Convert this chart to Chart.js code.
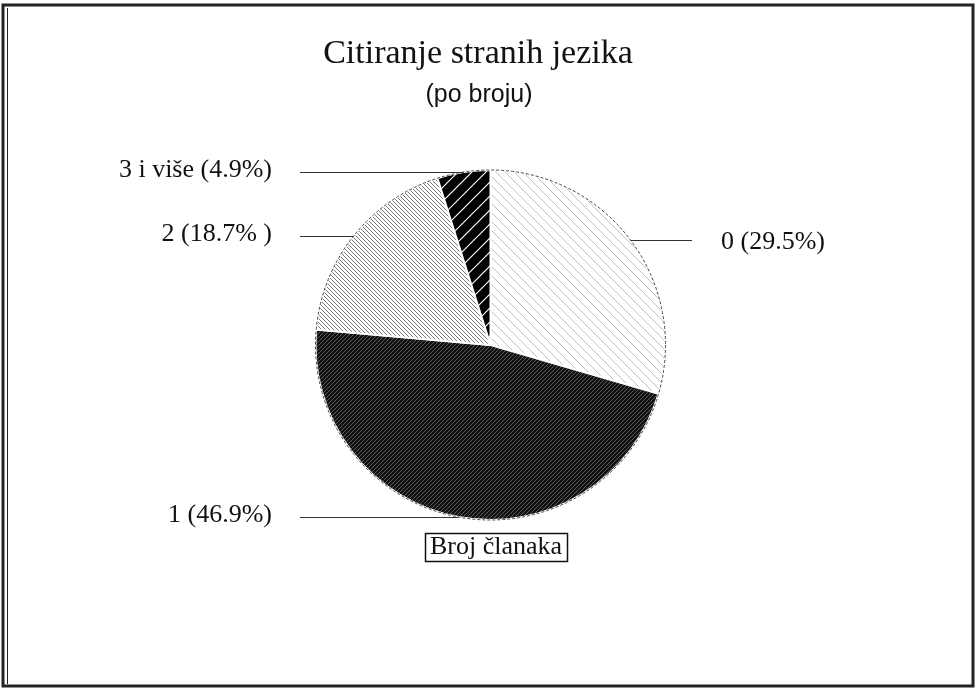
<!DOCTYPE html>
<html lang="hr">
<head>
<meta charset="UTF-8">
<title>Citiranje stranih jezika</title>
<script src="https://cdn.jsdelivr.net/npm/chart.js"></script>
<style>
  html, body { margin: 0; padding: 0; background: #fff; }
  #wrap { width: 977px; height: 690px; }
</style>
</head>
<body>
<div id="wrap"><canvas id="pie" width="977" height="690"></canvas></div>
<script>
// podaci sa slike
const categories = ['0', '1', '2', '3 i više'];
const shares = [29.5, 46.9, 18.7, 4.9];
const sliceLabels = ['0 (29.5%)', '1 (46.9%)', '2 (18.7% )', '3 i više (4.9%)'];
const chartTitle = 'Citiranje stranih jezika';
const chartSubtitle = '(po broju)';
const legendTitle = 'Broj članaka';

// srafure kao u originalu
function hatch(bg, fg, size, lw, forward) {
    const c = document.createElement('canvas');
    c.width = c.height = size;
    const x = c.getContext('2d');
    x.fillStyle = bg;
    x.fillRect(0, 0, size, size);
    x.strokeStyle = fg;
    x.lineWidth = lw;
    x.beginPath();
    if (forward) {
        x.moveTo(0, size); x.lineTo(size, 0);
        x.moveTo(-size / 2, size / 2); x.lineTo(size / 2, -size / 2);
        x.moveTo(size / 2, size * 1.5); x.lineTo(size * 1.5, size / 2);
    } else {
        x.moveTo(0, 0); x.lineTo(size, size);
        x.moveTo(-size / 2, size / 2); x.lineTo(size / 2, size * 1.5);
        x.moveTo(size / 2, -size / 2); x.lineTo(size * 1.5, size / 2);
    }
    x.stroke();
    return x.createPattern(c, 'repeat');
}

const fills = [
    hatch('#ffffff', '#b0b0b0', 9, 0.8, false),
    hatch('#111111', '#6e6e6e', 4, 0.8, true),
    hatch('#ffffff', '#6a6a6a', 4, 0.9, false),
    hatch('#000000', '#ffffff', 14, 1.2, true)
];

const serif = '"Liberation Serif", "Times New Roman", serif';
const sans = '"Liberation Sans", Arial, sans-serif';

// okvir, naslovi, linije do oznaka
const decor = {
    id: 'decor',
    beforeDraw(chart) {
        const ctx = chart.ctx;
        ctx.save();
        ctx.fillStyle = '#fff';
        ctx.fillRect(0, 0, chart.width, chart.height);
        ctx.strokeStyle = '#222';
        ctx.lineWidth = 3;
        ctx.strokeRect(3, 5, 970, 681);
        ctx.lineWidth = 1;
        ctx.beginPath();
        ctx.moveTo(7.5, 8); ctx.lineTo(7.5, 684);
        ctx.stroke();
        ctx.restore();
    },
    afterDatasetsDraw(chart) {
        const ctx = chart.ctx;
        const arcs = chart.getDatasetMeta(0).data;
        ctx.save();

        // obris kruga
        const a0 = arcs[0];
        ctx.strokeStyle = '#444';
        ctx.lineWidth = 1;
        ctx.setLineDash([3, 2]);
        ctx.beginPath();
        ctx.arc(a0.x, a0.y, a0.outerRadius, 0, Math.PI * 2);
        ctx.stroke();
        ctx.setLineDash([]);

        // naslov
        ctx.fillStyle = '#111';
        ctx.textAlign = 'center';
        ctx.textBaseline = 'alphabetic';
        ctx.font = '34px ' + serif;
        ctx.fillText(chartTitle, 478, 63);
        ctx.font = '25px ' + sans;
        ctx.fillText(chartSubtitle, 479, 102);

        // oznake isjecaka
        ctx.font = '26px ' + serif;
        ctx.textBaseline = 'middle';
        ctx.strokeStyle = '#333';
        ctx.lineWidth = 1.2;
        arcs.forEach((arc, i) => {
            const mid = (arc.startAngle + arc.endAngle) / 2;
            const px = arc.x + Math.cos(mid) * arc.outerRadius;
            const py = Math.round(arc.y + Math.sin(mid) * arc.outerRadius) + 0.5;
            ctx.beginPath();
            if (Math.cos(mid) >= 0) {
                ctx.moveTo(px, py); ctx.lineTo(692, py);
                ctx.stroke();
                ctx.textAlign = 'left';
                ctx.fillText(sliceLabels[i], 721, py + 2);
            } else {
                ctx.moveTo(300, py); ctx.lineTo(px, py);
                ctx.stroke();
                ctx.textAlign = 'right';
                ctx.fillText(sliceLabels[i], 272, py - 2);
            }
        });

        // natpis "Broj članaka" u okviru
        ctx.textAlign = 'left';
        ctx.textBaseline = 'alphabetic';
        ctx.fillText(legendTitle, 430, 554);
        ctx.strokeStyle = '#111';
        ctx.lineWidth = 1.5;
        ctx.strokeRect(425.5, 533.5, 142, 28);
        ctx.restore();
    }
};

new Chart(document.getElementById('pie'), {
    type: 'pie',
    data: {
        labels: categories,
        datasets: [{
            data: shares,
            backgroundColor: fills,
            borderColor: '#ffffff',
            borderWidth: 2
        }]
    },
    options: {
        responsive: false,
        animation: false,
        radius: 175,
        layout: { padding: { top: 170, bottom: 170, left: 300, right: 296 } },
        plugins: {
            legend: { display: false },
            tooltip: { enabled: false },
            title: { display: false }
        }
    },
    plugins: [decor]
});
</script>
</body>
</html>
